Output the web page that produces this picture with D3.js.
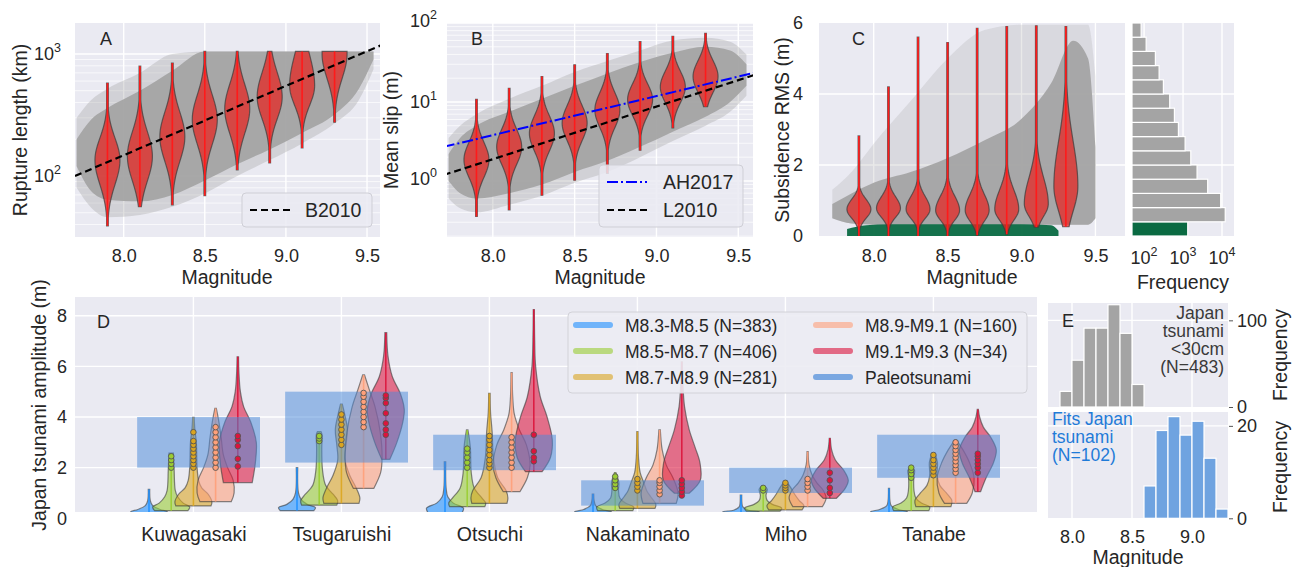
<!DOCTYPE html>
<html>
<head>
<meta charset="utf-8">
<script src="https://cdn.jsdelivr.net/npm/d3@7"></script>
<style>
  body { margin: 0; background: #fff; }
  text { font-family: "Liberation Sans", Arial, Helvetica, sans-serif; fill: #262626; }
</style>
</head>
<body>
<svg id="chart" width="1301" height="567"></svg>
<script>
// ---------------- data ----------------
var mags = [7.9, 8.1, 8.3, 8.5, 8.7, 8.9, 9.1, 9.3];

// A: rupture length (km)
var lenMin  = [39, 56, 58, 69, 112, 128, 170, 276];
var lenMax  = [578, 795, 843, 1050, 1050, 1050, 1050, 1050];
var lenMode = [135, 145, 210, 290, 355, 445, 550, 1000];
var lenSdLo = [0.20, 0.20, 0.20, 0.20, 0.20, 0.18, 0.16, 0.20];   // decades
var lenSdHi = [0.18, 0.20, 0.20, 0.20, 0.20, 0.20, 0.25, 0.30];
var lenCloudM = [7.71, 7.8, 7.9, 8.1, 8.3, 8.5, 8.7, 8.9, 9.1, 9.3, 9.45, 9.54];
var lenCoreLo = [120, 75, 64, 62, 70, 92, 125, 165, 225, 320, 520, 900];
var lenCoreHi = [200, 290, 360, 500, 730, 1050, 1050, 1050, 1050, 1050, 1050, 1050];
var lenHaloLo = [80, 55, 46, 48, 56, 72, 100, 135, 185, 270, 420, 750];
var lenHaloHi = [300, 420, 520, 700, 1000, 1050, 1050, 1050, 1050, 1050, 1050, 1050];
var b2010M = [7.7, 9.6];
var b2010L = [100, 1200];

// B: mean slip (m)
var slipMin  = [0.355, 0.43, 0.66, 1.02, 1.25, 2.45, 4.7, 8.7];
var slipMax  = [10.8, 14.9, 21, 29.5, 41, 58, 68, 74];
var slipMode = [1.85, 2.7, 4.0, 5.4, 7.9, 10.7, 15.5, 21];
var slipSdLo = [0.22, 0.22, 0.22, 0.22, 0.22, 0.2, 0.2, 0.2];
var slipSdHi = [0.22, 0.22, 0.22, 0.22, 0.22, 0.2, 0.2, 0.2];
var slipCloudM = [7.73, 7.8, 7.9, 8.1, 8.3, 8.5, 8.7, 8.9, 9.1, 9.3, 9.45, 9.55];
var slipCoreLo = [1.0, 0.7, 0.6, 0.7, 0.9, 1.3, 1.8, 2.7, 4.2, 6.5, 10, 16];
var slipCoreHi = [2.2, 3.5, 5, 7.5, 11, 16, 23, 32, 42, 50, 45, 30];
var slipHaloLo = [0.6, 0.45, 0.4, 0.5, 0.65, 0.95, 1.3, 2.0, 3.2, 5, 7.5, 12];
var slipHaloHi = [3.5, 5, 7, 11, 16, 24, 33, 45, 60, 65, 58, 40];
var ah2017M = [7.7, 9.6], ah2017S = [2.7, 23.5];
var l2010M  = [7.7, 9.6], l2010S  = [1.19, 22];

// C: subsidence RMS (m)
var subMin  = [0.0, 0.0, 0.0, 0.0, 0.02, 0.05, 0.25, 0.26];
var subMax  = [2.82, 4.2, 5.6, 5.45, 5.85, 5.9, 5.92, 5.9];
var subMode = [0.75, 0.78, 0.75, 0.72, 0.72, 0.75, 0.9, 1.4];
var subSdLo = [0.25, 0.25, 0.25, 0.27, 0.3, 0.3, 0.35, 0.7];
var subSdHi = [0.28, 0.32, 0.36, 0.4, 0.45, 0.54, 0.75, 1.27];
var subCloudM = [7.72, 7.85, 8.0, 8.25, 8.5, 8.75, 9.0, 9.2, 9.35, 9.45, 9.5];
var subCoreLo = [0.5, 0.35, 0.32, 0.32, 0.32, 0.32, 0.32, 0.32, 0.32, 0.32, 0.5];
var subCoreHi = [0.9, 1.2, 1.5, 1.8, 2.2, 2.7, 3.3, 4.3, 5.5, 5.0, 2.5];
var subHaloHi = [1.3, 1.8, 2.6, 3.8, 5.0, 5.8, 5.95, 5.95, 5.95, 5.95, 4.5];
var greenM  = [7.82, 7.95, 8.1, 8.5, 9.0, 9.2, 9.25];
var greenHi = [0.2, 0.3, 0.33, 0.33, 0.33, 0.3, 0.15];
// C side histogram
var rmsBinLo = [0, 0.4, 0.8, 1.2, 1.6, 2.0, 2.4, 2.8, 3.2, 3.6, 4.0, 4.4, 4.8, 5.2, 5.6];
var rmsCount = [1320, 12100, 9260, 4290, 2290, 1580, 1130, 760, 600, 455, 313, 243, 195, 113, 84];

// D: Japan tsunami amplitude
var stations = ["Kuwagasaki", "Tsugaruishi", "Otsuchi", "Nakaminato", "Miho", "Tanabe"];
var magBins = ["M8.3-M8.5 (N=383)", "M8.5-M8.7 (N=406)", "M8.7-M8.9 (N=281)", "M8.9-M9.1 (N=160)", "M9.1-M9.3 (N=34)"];
var paleoLo = [2.0, 2.2, 1.9, 0.5, 1.0, 1.6];
var paleoHi = [4.0, 5.0, 3.3, 1.5, 2.0, 3.3];
// violin outlines per bin and station: [amplitude (m), relative density]
var ampShape = [
  [
    [[0.15,0.9],[0.25,1],[0.35,0.6],[0.5,0.2],[0.7,0.07],[1.14,0.04]],
    [[0.3,0.9],[0.42,1],[0.55,0.55],[0.75,0.22],[1.0,0.08],[2.0,0.04]],
    [[0.2,0.9],[0.4,1],[0.6,0.45],[0.85,0.15],[1.2,0.06],[2.23,0.04]],
    [[0.15,0.9],[0.25,1],[0.35,0.5],[0.5,0.15],[0.7,0.06],[0.96,0.04]],
    [[0.15,0.9],[0.25,1],[0.32,0.4],[0.45,0.1],[0.6,0.05],[0.92,0.04]],
    [[0.15,0.9],[0.25,1],[0.35,0.5],[0.5,0.12],[0.7,0.05],[1.18,0.03]]
  ],
  [
    [[0.3,0.9],[0.45,1],[0.6,0.65],[0.85,0.35],[1.1,0.22],[1.9,0.16],[2.57,0.12]],
    [[0.52,0.95],[0.7,1],[0.95,0.75],[1.3,0.35],[1.9,0.18],[2.8,0.14],[3.3,0.16],[3.42,0.1]],
    [[0.46,0.95],[0.6,1],[0.8,0.8],[1.2,0.38],[1.8,0.22],[2.8,0.17],[3.49,0.04]],
    [[0.3,0.95],[0.45,1],[0.6,0.55],[0.8,0.25],[1.1,0.18],[1.4,0.2],[1.8,0.04]],
    [[0.28,0.9],[0.4,1],[0.55,0.5],[0.7,0.22],[0.9,0.15],[1.15,0.22],[1.27,0.08]],
    [[0.3,0.95],[0.45,1],[0.6,0.55],[0.8,0.25],[1.1,0.15],[1.6,0.14],[1.9,0.18],[1.97,0.08]]
  ],
  [
    [[0.49,0.95],[0.65,1],[0.95,0.8],[1.2,0.45],[1.5,0.28],[2.0,0.2],[3.0,0.16],[3.5,0.08],[3.99,0.04]],
    [[0.59,0.95],[0.8,1],[1.2,0.8],[1.7,0.45],[2.3,0.2],[2.9,0.25],[3.5,0.33],[4.1,0.18],[4.51,0.05]],
    [[0.59,0.95],[0.8,1],[1.1,0.9],[1.6,0.45],[2.4,0.22],[3.4,0.15],[4.2,0.06],[4.93,0.04]],
    [[0.39,0.95],[0.55,1],[0.85,0.72],[1.1,0.5],[1.4,0.35],[1.8,0.15],[2.4,0.06],[3.42,0.03]],
    [[0.33,0.9],[0.5,1],[0.7,0.75],[0.95,0.5],[1.2,0.3],[1.44,0.08]],
    [[0.46,0.95],[0.7,1],[1.0,0.7],[1.3,0.35],[1.7,0.2],[2.2,0.22],[2.57,0.08]]
  ],
  [
    [[0.66,0.85],[1.0,1],[1.5,0.95],[2.0,0.65],[2.5,0.42],[3.2,0.3],[3.8,0.18],[4.34,0.04]],
    [[1.18,0.55],[1.8,0.92],[2.4,1],[3.4,0.9],[4.4,0.62],[5.1,0.3],[5.66,0.05]],
    [[1.05,0.45],[1.6,0.85],[2.1,1],[2.9,0.8],[3.5,0.42],[4.1,0.15],[4.8,0.06],[5.75,0.03]],
    [[0.59,0.9],[1.0,1],[1.6,0.72],[2.1,0.36],[2.7,0.14],[3.49,0.04]],
    [[0.46,0.8],[0.8,1],[1.1,0.85],[1.4,0.5],[1.7,0.25],[2.1,0.08],[2.63,0.03]],
    [[0.59,0.6],[1.0,0.9],[1.6,1],[2.2,0.75],[2.7,0.4],[3.09,0.05]]
  ],
  [
    [[1.41,0.78],[2.2,0.95],[3.0,1],[3.8,0.7],[4.4,0.32],[5.0,0.14],[5.8,0.06],[6.38,0.04]],
    [[2.33,0.22],[3.0,0.6],[3.8,0.92],[4.3,1],[4.9,0.8],[5.6,0.35],[6.4,0.12],[7.33,0.05]],
    [[1.84,0.45],[2.4,0.9],[3.1,1],[4.0,0.72],[4.8,0.35],[6.0,0.1],[7.0,0.05],[8.24,0.03]],
    [[0.99,0.4],[1.5,1],[2.2,0.98],[2.8,0.72],[3.5,0.4],[4.4,0.15],[5.3,0.06],[6.18,0.03]],
    [[0.79,0.36],[1.2,0.85],[1.5,1],[1.9,0.75],[2.3,0.3],[2.7,0.1],[3.16,0.03]],
    [[1.05,0.15],[1.6,0.45],[2.2,0.85],[2.7,1],[3.2,0.7],[3.6,0.3],[4.0,0.1],[4.3,0.03]]
  ]
];
// simulated amplitudes that fit the paleotsunami range (points)
var ampDots = [
  [[], [], [], [], [], []],
  [[2.0,2.15,2.3,2.45], [3.05,3.15,3.25], [2.0,2.2,2.4,2.6,2.75], [1.2,1.35,1.5,1.65], [1.1,1.2], [1.6,1.75,1.9,2.0]],
  [[2.0,2.15,2.3,2.45,2.6,2.75,2.9,3.05,3.4], [2.9,3.1,3.3,3.5,3.7,3.9,4.1], [2.0,2.15,2.3,2.5,2.7,2.9,3.1,3.25], [1.1,1.25,1.4,1.55], [1.1,1.2,1.3,1.4], [1.7,1.85,2.0,2.15,2.3,2.5]],
  [[2.0,2.2,2.4,2.6,2.8,3.0,3.2,3.4,3.6], [3.6,3.8,4.0,4.2,4.4,4.6,4.8,4.95], [2.0,2.2,2.4,2.6,2.8,3.0,3.2], [0.95,1.1,1.25,1.4,1.5], [1.1,1.25,1.4,1.55], [1.8,1.95,2.1,2.25,2.4,2.55,2.7,2.85,3.0]],
  [[2.05,2.35,2.85,3.1,3.25], [3.3,3.5,3.75,4.15,4.55,4.75,4.85], [2.25,2.4,2.65,3.3], [0.9,1.05,1.2,1.35,1.5], [1.0,1.2,1.5,1.8], [1.8,2.0,2.15,2.3,2.45,2.55]]
];

// E: magnitude histograms
var eBinLo1 = [7.9, 8.0, 8.1, 8.2, 8.3, 8.4, 8.5];
var eCount1 = [18, 54, 91, 91, 118, 85, 26];
var eBinLo2 = [8.6, 8.7, 8.8, 8.9, 9.0, 9.1, 9.2];
var eCount2 = [7, 19, 22, 18, 21, 13, 2];

// ---------------- styles ----------------
var bg = "#eaeaf2";
var cloudGrey = "#a4a4a4";
var violinRed = "#e8231f";
var binColors = ["#1e90ff", "#9acd32", "#daa520", "#ffa07a", "#dc143c"];
var paleoColor = "#4a8ad8";

var svg = d3.select("#chart");
var defs = svg.append("defs");

function makePanel(id, x, y, w, h) {
  defs.append("clipPath").attr("id", id).append("rect")
    .attr("x", x).attr("y", y).attr("width", w).attr("height", h);
  svg.append("rect").attr("x", x).attr("y", y).attr("width", w).attr("height", h).attr("fill", bg);
  return svg.append("g").attr("clip-path", "url(#" + id + ")");
}
function hGrid(g, scale, vals, x0, x1, wdt) {
  g.selectAll(null).data(vals).enter().append("line")
    .attr("x1", x0).attr("x2", x1).attr("y1", scale).attr("y2", scale)
    .attr("stroke", "#fff").attr("stroke-width", wdt);
}
function vGrid(g, scale, vals, y0, y1, wdt) {
  g.selectAll(null).data(vals).enter().append("line")
    .attr("y1", y0).attr("y2", y1).attr("x1", scale).attr("x2", scale)
    .attr("stroke", "#fff").attr("stroke-width", wdt);
}
function bottomAxis(scale, y, vals, fmt, pad, size) {
  var g = svg.append("g").attr("transform", "translate(0," + y + ")")
    .call(d3.axisBottom(scale).tickValues(vals).tickFormat(fmt).tickSize(0).tickPadding(pad));
  g.select(".domain").remove();
  g.selectAll("text").style("font-size", (size || 18) + "px");
  return g;
}
function leftAxis(scale, x, vals, fmt, pad) {
  var g = svg.append("g").attr("transform", "translate(" + x + ",0)")
    .call(d3.axisLeft(scale).tickValues(vals).tickFormat(fmt).tickSize(0).tickPadding(pad));
  g.select(".domain").remove();
  g.selectAll("text").style("font-size", "18px");
  return g;
}
function powLabel(x, y, exp, anchor) {
  var t = svg.append("text").attr("x", x).attr("y", y).attr("text-anchor", anchor).style("font-size", "18px");
  t.append("tspan").text("10");
  t.append("tspan").attr("dy", -8).style("font-size", "12.5px").text(exp);
}
function label(x, y, txt, size, anchor, rot) {
  var t = svg.append("text").attr("x", x).attr("y", y).attr("text-anchor", anchor || "middle")
    .style("font-size", size + "px").text(txt);
  if (rot) t.attr("transform", "rotate(" + rot + "," + x + "," + y + ")");
  return t;
}
function logMinor(lo, hi) {
  var out = [];
  for (var e = Math.floor(Math.log10(lo)); e <= Math.ceil(Math.log10(hi)); e++)
    for (var k = 2; k <= 9; k++) { var v = k * Math.pow(10, e); if (v > lo && v < hi) out.push(v); }
  return out;
}
// model violin (log or linear), drawn from min/max/mode/spread
function modelViolin(g, xc, hw, yScale, lo, hi, mode, sLo, sHi, isLog) {
  var tf = isLog ? Math.log10 : function (v) { return v; };
  var inv = isLog ? function (u) { return Math.pow(10, u); } : function (u) { return u; };
  var u0 = tf(lo), u1 = tf(hi), um = tf(mode), pts = [];
  for (var i = 0; i <= 80; i++) {
    var u = u0 + (u1 - u0) * i / 80, s = u < um ? sLo : sHi;
    pts.push([inv(u), Math.max(Math.exp(-0.5 * Math.pow((u - um) / s, 2)), 0.07)]);
  }
  var area = d3.area().y(function (d) { return yScale(d[0]); })
    .x0(function (d) { return xc - hw * d[1]; }).x1(function (d) { return xc + hw * d[1]; });
  g.append("path").attr("d", area(pts)).attr("fill", violinRed).attr("fill-opacity", 0.72)
    .attr("stroke", "#3a3a3a").attr("stroke-opacity", 0.7).attr("stroke-width", 1.2);
  g.append("line").attr("x1", xc).attr("x2", xc).attr("y1", yScale(lo)).attr("y2", yScale(hi))
    .attr("stroke", "#ff1a1a").attr("stroke-width", 1.6);
}
function cloud(g, xs, ys, m, lo, hi, fill, op) {
  var rows = m.map(function (d, i) { return [d, lo[i], hi[i]]; });
  var area = d3.area().curve(d3.curveMonotoneX)
    .x(function (d) { return xs(d[0]); }).y0(function (d) { return ys(d[1]); }).y1(function (d) { return ys(d[2]); });
  g.append("path").attr("d", area(rows)).attr("fill", fill).attr("fill-opacity", op);
}

// ---------------- panel A ----------------
var xA = d3.scaleLinear().domain([7.7, 9.58]).range([75, 380]);
var yA = d3.scaleLog().domain([Math.pow(10, 1.5), Math.pow(10, 3.254)]).range([237, 23]);
var gA = makePanel("clipA", 75, 23, 305, 214);
hGrid(gA, yA, logMinor(31.7, 1790), 75, 380, 0.7);
hGrid(gA, yA, [100, 1000], 75, 380, 1.4);
vGrid(gA, xA, [8, 8.5, 9, 9.5], 23, 237, 1.4);
cloud(gA, xA, yA, lenCloudM, lenHaloLo, lenHaloHi, cloudGrey, 0.35);
cloud(gA, xA, yA, lenCloudM, lenCoreLo, lenCoreHi, cloudGrey, 0.95);
mags.forEach(function (m, i) {
  modelViolin(gA, xA(m), 12.5, yA, lenMin[i], lenMax[i], lenMode[i], lenSdLo[i], lenSdHi[i], true);
});
gA.append("path").datum(b2010M.map(function (m, i) { return [m, b2010L[i]]; }))
  .attr("d", d3.line().x(function (d) { return xA(d[0]); }).y(function (d) { return yA(d[1]); }))
  .attr("stroke", "#000").attr("stroke-width", 2.2).attr("stroke-dasharray", "7,4").attr("fill", "none");
bottomAxis(xA, 237, [8, 8.5, 9, 9.5], d3.format(".1f"), 12);
powLabel(61, yA(1000) + 6.5, "3", "end");
powLabel(61, yA(100) + 6.5, "2", "end");
label(227, 284, "Magnitude", 19.5);
label(27, 130, "Rupture length (km)", 19.5, "middle", -90);
label(100, 45, "A", 18, "start");
svg.append("rect").attr("x", 242).attr("y", 193).attr("width", 130).attr("height", 34).attr("rx", 4)
  .attr("fill", bg).attr("fill-opacity", 0.85).attr("stroke", "#cfcfd6");
svg.append("line").attr("x1", 250).attr("x2", 290).attr("y1", 210).attr("y2", 210)
  .attr("stroke", "#000").attr("stroke-width", 2.2).attr("stroke-dasharray", "7,4");
label(305, 217, "B2010", 19.5, "start");

// ---------------- panel B ----------------
var xB = d3.scaleLinear().domain([7.72, 9.59]).range([447, 753]);
var yB = d3.scaleLog().domain([Math.pow(10, -0.71), 100]).range([237, 23]);
var gB = makePanel("clipB", 447, 23, 306, 214);
hGrid(gB, yB, logMinor(0.195, 100), 447, 753, 0.7);
hGrid(gB, yB, [1, 10, 100], 447, 753, 1.4);
vGrid(gB, xB, [8, 8.5, 9, 9.5], 23, 237, 1.4);
cloud(gB, xB, yB, slipCloudM, slipHaloLo, slipHaloHi, cloudGrey, 0.35);
cloud(gB, xB, yB, slipCloudM, slipCoreLo, slipCoreHi, cloudGrey, 0.95);
mags.forEach(function (m, i) {
  modelViolin(gB, xB(m), 12.5, yB, slipMin[i], slipMax[i], slipMode[i], slipSdLo[i], slipSdHi[i], true);
});
var lineB = d3.line().x(function (d) { return xB(d[0]); }).y(function (d) { return yB(d[1]); });
gB.append("path").datum(ah2017M.map(function (m, i) { return [m, ah2017S[i]]; })).attr("d", lineB)
  .attr("stroke", "#0000ff").attr("stroke-width", 2).attr("stroke-dasharray", "11,3,2,3").attr("fill", "none");
gB.append("path").datum(l2010M.map(function (m, i) { return [m, l2010S[i]]; })).attr("d", lineB)
  .attr("stroke", "#000").attr("stroke-width", 2.2).attr("stroke-dasharray", "7,4").attr("fill", "none");
bottomAxis(xB, 237, [8, 8.5, 9, 9.5], d3.format(".1f"), 12);
powLabel(437, yB(100) + 4, "2", "end");
powLabel(437, yB(10) + 6.5, "1", "end");
powLabel(437, yB(1) + 4, "0", "end");
label(600, 284, "Magnitude", 19.5);
label(398, 130, "Mean slip (m)", 19.5, "middle", -90);
label(471, 45, "B", 18, "start");
svg.append("rect").attr("x", 599).attr("y", 165).attr("width", 144).attr("height", 62).attr("rx", 4)
  .attr("fill", bg).attr("fill-opacity", 0.85).attr("stroke", "#cfcfd6");
svg.append("line").attr("x1", 607).attr("x2", 647).attr("y1", 182).attr("y2", 182)
  .attr("stroke", "#0000ff").attr("stroke-width", 2).attr("stroke-dasharray", "11,3,2,3");
svg.append("line").attr("x1", 607).attr("x2", 647).attr("y1", 210).attr("y2", 210)
  .attr("stroke", "#000").attr("stroke-width", 2.2).attr("stroke-dasharray", "7,4");
label(663, 189, "AH2017", 19.5, "start");
label(663, 217, "L2010", 19.5, "start");

// ---------------- panel C ----------------
var xC = d3.scaleLinear().domain([7.63, 9.70]).range([819, 1125]);
var yC = d3.scaleLinear().domain([0, 6]).range([236, 23]);
var gC = makePanel("clipC", 819, 23, 306, 213);
hGrid(gC, yC, [2, 4], 819, 1125, 1.4);
vGrid(gC, xC, [8, 8.5, 9, 9.5], 23, 236, 1.4);
cloud(gC, xC, yC, subCloudM, subCoreLo, subHaloHi, cloudGrey, 0.24);
cloud(gC, xC, yC, subCloudM, subCoreLo, subCoreHi, cloudGrey, 0.95);
cloud(gC, xC, yC, greenM, greenM.map(function () { return 0; }), greenHi, "#0a6a42", 0.95);
mags.forEach(function (m, i) {
  modelViolin(gC, xC(m), 12, yC, subMin[i], subMax[i], subMode[i], subSdLo[i], subSdHi[i], false);
});
bottomAxis(xC, 236, [8, 8.5, 9, 9.5], d3.format(".1f"), 13);
leftAxis(yC, 819, [0, 2, 4, 6], d3.format("d"), 16);
label(972, 284, "Magnitude", 19.5);
label(789, 130, "Subsidence RMS (m)", 19.5, "middle", -90);
label(852, 45, "C", 18, "start");

// C side histogram
var xH = d3.scaleLog().domain([Math.pow(10, 1.69), Math.pow(10, 4.308)]).range([1132, 1234]);
var gH = makePanel("clipH", 1132, 23, 102, 213);
hGrid(gH, yC, [2, 4], 1132, 1234, 1.4);
vGrid(gH, xH, [100, 1000, 10000], 23, 236, 1.4);
gH.selectAll(null).data(rmsBinLo).enter().append("rect")
  .attr("x", 1132)
  .attr("y", function (d) { return yC(d + 0.4); })
  .attr("height", function (d) { return yC(d) - yC(d + 0.4); })
  .attr("width", function (d, i) { return xH(rmsCount[i]) - 1132; })
  .attr("fill", function (d, i) { return i === 0 ? "#0a6a42" : cloudGrey; })
  .attr("stroke", "#fff").attr("stroke-width", 1.2);
powLabel(xH(100), 264, "2", "middle");
powLabel(xH(1000), 264, "3", "middle");
powLabel(xH(10000), 264, "4", "middle");
label(1183, 289, "Frequency", 19.5);

// ---------------- panel D ----------------
var xD = d3.scaleLinear().domain([-0.8, 5.7]).range([75, 1037]);
var yD = d3.scaleLinear().domain([0, 8]).range([518.3, 315.7]);
var binOffset = [-0.3, -0.15, 0, 0.15, 0.3];
var gD = makePanel("clipD", 75, 297, 962, 215);
hGrid(gD, yD, [2, 4, 6, 8], 75, 1037, 1.4);
vGrid(gD, xD, d3.range(stations.length), 297, 512, 1.4);
var hwD = 18.5;
ampShape.forEach(function (bin, b) {
  bin.forEach(function (knots, s) {
    var xc = xD(s + binOffset[b]);
    var area = d3.area().curve(d3.curveCatmullRom.alpha(0.5))
      .y(function (d) { return yD(d[0]); })
      .x0(function (d) { return xc - hwD * d[1]; }).x1(function (d) { return xc + hwD * d[1]; });
    gD.append("path").attr("d", area(knots)).attr("fill", binColors[b]).attr("fill-opacity", 0.58)
      .attr("stroke", "#3a3a3a").attr("stroke-opacity", 0.6).attr("stroke-width", 1.2);
    gD.append("line").attr("x1", xc).attr("x2", xc)
      .attr("y1", yD(knots[0][0])).attr("y2", yD(knots[knots.length - 1][0]))
      .attr("stroke", binColors[b]).attr("stroke-width", 1.6).attr("stroke-opacity", 0.9);
  });
});
gD.selectAll(null).data(stations).enter().append("rect")
  .attr("x", function (d, i) { return xD(i - 0.38); })
  .attr("width", function (d, i) { return xD(i + 0.45) - xD(i - 0.38); })
  .attr("y", function (d, i) { return yD(paleoHi[i]); })
  .attr("height", function (d, i) { return yD(paleoLo[i]) - yD(paleoHi[i]); })
  .attr("fill", paleoColor).attr("fill-opacity", 0.52);
ampDots.forEach(function (bin, b) {
  bin.forEach(function (vals, s) {
    gD.selectAll(null).data(vals).enter().append("circle")
      .attr("cx", xD(s + binOffset[b])).attr("cy", function (d) { return yD(d); }).attr("r", 2.8)
      .attr("fill", binColors[b]).attr("stroke", "#555").attr("stroke-width", 0.9);
  });
});
bottomAxis(xD, 512, d3.range(stations.length), function (i) { return stations[i]; }, 15, 19.5);
leftAxis(yD, 67, [0, 2, 4, 6, 8], d3.format("d"), 0);
label(46, 405, "Japan tsunami amplitude (m)", 19.5, "middle", -90);
label(97, 328, "D", 18, "start");
// legend D
svg.append("rect").attr("x", 568).attr("y", 312).attr("width", 459).attr("height", 81).attr("rx", 4)
  .attr("fill", "#ececf3").attr("fill-opacity", 0.9).attr("stroke", "#d2d2d8");
var legItems = magBins.map(function (t, i) { return { t: t, c: binColors[i], op: 0.6 }; })
  .concat([{ t: "Paleotsunami", c: paleoColor, op: 0.7 }]);
legItems.forEach(function (d, i) {
  var col = Math.floor(i / 3), row = i % 3;
  var lx = col === 0 ? 573 : 813, ly = 325 + row * 26;
  svg.append("line").attr("x1", lx + 3).attr("x2", lx + 37).attr("y1", ly).attr("y2", ly)
    .attr("stroke", d.c).attr("stroke-opacity", d.op).attr("stroke-width", 6).attr("stroke-linecap", "round");
  label(lx + 52, ly + 6.5, d.t, 17.5, "start");
});

// ---------------- panel E ----------------
var xE = d3.scaleLinear().domain([7.8, 9.3]).range([1048, 1228]);
var yE1 = d3.scaleLinear().domain([0, 120]).range([407, 303]);
var yE2 = d3.scaleLinear().domain([0, 23]).range([518.3, 412]);
var gE1 = makePanel("clipE1", 1048, 303, 180, 104);
vGrid(gE1, xE, [8, 8.5, 9], 303, 407, 1.4);
hGrid(gE1, yE1, [100], 1048, 1228, 1.4);
gE1.selectAll(null).data(eBinLo1).enter().append("rect")
  .attr("x", function (d) { return xE(d); }).attr("width", function (d) { return xE(d + 0.1) - xE(d); })
  .attr("y", function (d, i) { return yE1(eCount1[i]); })
  .attr("height", function (d, i) { return yE1(0) - yE1(eCount1[i]); })
  .attr("fill", cloudGrey).attr("stroke", "#fff").attr("stroke-width", 1.2);
var gE2 = makePanel("clipE2", 1048, 412, 180, 106);
vGrid(gE2, xE, [8, 8.5, 9], 412, 518, 1.4);
hGrid(gE2, yE2, [20], 1048, 1228, 1.4);
gE2.selectAll(null).data(eBinLo2).enter().append("rect")
  .attr("x", function (d) { return xE(d); }).attr("width", function (d) { return xE(d + 0.1) - xE(d); })
  .attr("y", function (d, i) { return yE2(eCount2[i]); })
  .attr("height", function (d, i) { return yE2(0) - yE2(eCount2[i]); })
  .attr("fill", "#6fa3e0").attr("stroke", "#fff").attr("stroke-width", 1.2);
[[yE1, [0, 100]], [yE2, [0, 20]]].forEach(function (p) {
  var g = svg.append("g").attr("transform", "translate(1229,0)")
    .call(d3.axisRight(p[0]).tickValues(p[1]).tickFormat(d3.format("d")).tickSize(4).tickPadding(4));
  g.select(".domain").remove();
  g.selectAll("line").attr("stroke", "#555");
  g.selectAll("text").style("font-size", "18px");
});
bottomAxis(xE, 518, [8, 8.5, 9], d3.format(".1f"), 12);
label(1138, 564, "Magnitude", 19.5);
label(1287, 355, "Frequency", 19.5, "middle", -90);
label(1287, 467, "Frequency", 19.5, "middle", -90);
label(1062, 327, "E", 18, "start");
["Japan", "tsunami", "<30cm", "(N=483)"].forEach(function (t, i) {
  label(1224, 319 + i * 18, t, 17.5, "end").style("fill", "#3a3a3a");
});
["Fits Japan", "tsunami", "(N=102)"].forEach(function (t, i) {
  label(1052, 425 + i * 18, t, 17.5, "start").style("fill", "#1f7bd8");
});
</script>
</body>
</html>
